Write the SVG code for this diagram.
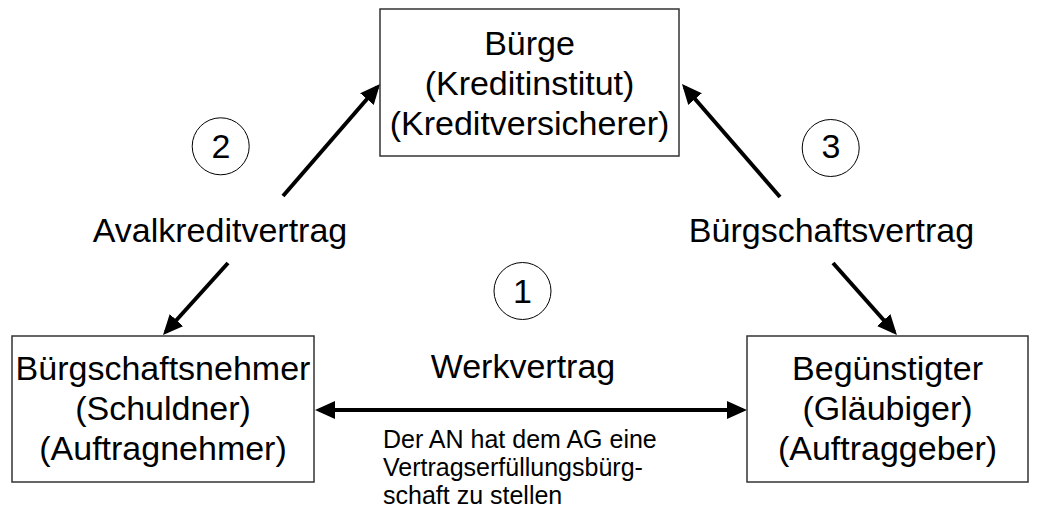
<svg xmlns="http://www.w3.org/2000/svg" width="1037" height="510" viewBox="0 0 1037 510">
  <defs>
    <style>
      .box { fill: #ffffff; stroke: #333333; stroke-width: 1.5; }
      .lbl { font-family: "Liberation Sans", Arial, sans-serif; font-size: 34px; fill: #000000; text-anchor: middle; }
      .small { font-family: "Liberation Sans", Arial, sans-serif; font-size: 25px; fill: #000000; }
      .circ { fill: none; stroke: #000000; stroke-width: 1; }
      .arr { stroke: #000000; stroke-width: 4; fill: none; marker-end: url(#ah); }
    </style>
    <marker id="ah" markerUnits="userSpaceOnUse" markerWidth="20" markerHeight="18" viewBox="0 0 20 18" refX="16" refY="9" orient="auto-start-reverse">
      <path d="M0,0 L20,9 L0,18 z" fill="#000000"/>
    </marker>
  </defs>
  <rect width="1037" height="510" fill="#ffffff"/>

  <g id="connectors">
    <line class="arr" x1="283" y1="196" x2="377.4" y2="87"/>
    <line class="arr" x1="228" y1="263" x2="165.7" y2="332"/>
    <line class="arr" x1="780" y1="197" x2="684.6" y2="87"/>
    <line class="arr" x1="833" y1="263" x2="894.3" y2="332"/>
    <line class="arr" x1="319" y1="410" x2="743" y2="410" style="marker-start: url(#ah);"/>
  </g>

  <g id="buerge">
    <rect class="box" x="380" y="9" width="299" height="147"/>
    <text class="lbl" x="529.5" y="55">Bürge</text>
    <text class="lbl" x="529.5" y="95">(Kreditinstitut)</text>
    <text class="lbl" x="529.5" y="135">(Kreditversicherer)</text>
  </g>

  <g id="buergschaftsnehmer">
    <rect class="box" x="12" y="336" width="302" height="146"/>
    <text class="lbl" x="163" y="380">Bürgschaftsnehmer</text>
    <text class="lbl" x="163" y="420">(Schuldner)</text>
    <text class="lbl" x="163" y="460">(Auftragnehmer)</text>
  </g>

  <g id="beguenstigter">
    <rect class="box" x="747" y="336" width="281" height="146"/>
    <text class="lbl" x="887.5" y="380">Begünstigter</text>
    <text class="lbl" x="887.5" y="420">(Gläubiger)</text>
    <text class="lbl" x="887.5" y="460">(Auftraggeber)</text>
  </g>

  <g id="label-avalkredit">
    <text class="lbl" x="220" y="242">Avalkreditvertrag</text>
  </g>
  <g id="label-buergschaft">
    <text class="lbl" x="831.5" y="242">Bürgschaftsvertrag</text>
  </g>
  <g id="label-werk">
    <text class="lbl" x="523" y="378">Werkvertrag</text>
    <text class="small" x="383" y="448">Der AN hat dem AG eine</text>
    <text class="small" x="383" y="476">Vertragserfüllungsbürg-</text>
    <text class="small" x="383" y="504">schaft zu stellen</text>
  </g>

  <g id="circle-1">
    <circle class="circ" cx="522.5" cy="291" r="28.5"/>
    <text class="lbl" x="522.5" y="303">1</text>
  </g>
  <g id="circle-2">
    <circle class="circ" cx="220.7" cy="146.3" r="28.5"/>
    <text class="lbl" x="221" y="157.5">2</text>
  </g>
  <g id="circle-3">
    <circle class="circ" cx="830.7" cy="148" r="28.5"/>
    <text class="lbl" x="831" y="157.5">3</text>
  </g>
</svg>
